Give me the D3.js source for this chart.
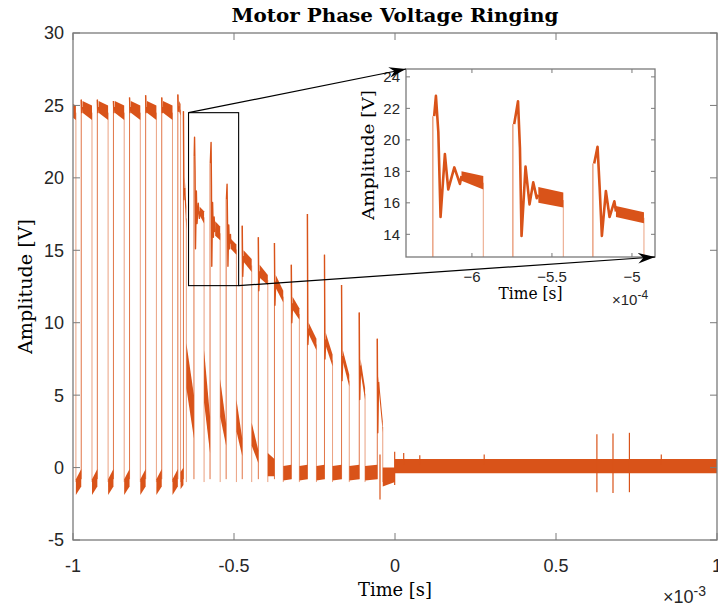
<!DOCTYPE html>
<html>
<head>
<meta charset="utf-8">
<script src="https://cdn.jsdelivr.net/npm/d3@7"></script>
<style>
    body { margin: 0; background: #fff; }
    .tick-label { font-family: "Liberation Sans", Arial, sans-serif; fill: #262626; }
    .tex { font-family: "DejaVu Serif", "Liberation Serif", serif; fill: #000; }
</style>
</head>
<body>
<svg id="chart" width="718" height="607"></svg>
<script>
(function () {
    'use strict';

    // pulse edges, ms
    const riseTimes = [-1.0244, -0.9744, -0.9244, -0.8744, -0.8244, -0.7744, -0.7244, -0.6744, -0.6570,
        -0.6244, -0.5744, -0.5244, -0.4744, -0.4244, -0.3744, -0.3220, -0.2720, -0.2190, -0.1660, -0.1110, -0.0550];
    const fallTimes = [-0.9910, -0.9410, -0.8910, -0.8410, -0.7910, -0.7410, -0.6910, -0.6660, -0.6480,
        -0.5929, -0.5429, -0.4925, -0.4450, -0.3950, -0.3470, -0.2970, -0.2440, -0.1940, -0.1420, -0.0930, -0.0380];
    // spike tops and the dip after them, V
    const spikePeaks = [25.4, 25.4, 25.4, 25.3, 25.55, 25.7, 25.55, 25.75, 24.6,
        22.8, 22.45, 19.56, 16.7, 15.9, 15.5, 14.0, 17.5, 14.7, 12.6, 10.7, 8.9];
    const spikeDips = [24.5, 24.5, 24.5, 24.5, 24.5, 24.5, 24.5, 24.6, 18.5,
        15.1, 13.9, 13.9, 13.2, 12.2, 11.2, 10.0, 8.5, 7.5, 6.0, 4.7, 2.4];
    // on-phase noise band [lo, hi] at start and end
    const plateauStart = [[24.5, 25.3], [24.5, 25.3], [24.5, 25.3], [24.5, 25.3], [24.5, 25.3], [24.5, 25.3], [24.5, 25.3], [24.6, 25.3], [18.5, 20.1],
        [17.4, 18.0], [16.0, 17.0], [15.1, 15.8], [14.2, 15.0], [13.1, 14.0], [12.4, 13.3], [10.9, 11.8], [9.2, 10.0], [8.4, 9.3], [7.3, 8.1], [6.6, 7.5], [5.5, 6.3]];
    const plateauEnd = [[24.0, 25.0], [24.0, 25.0], [24.0, 25.0], [24.0, 25.0], [24.0, 25.0], [24.0, 25.0], [24.0, 25.0], [24.3, 25.1], [16.4, 18.0],
        [16.85, 17.7], [15.7, 16.65], [14.7, 15.4], [13.5, 14.4], [12.6, 13.3], [11.4, 12.2], [10.2, 11.0], [8.1, 8.9], [7.0, 7.8], [5.6, 6.4], [4.7, 5.5], [2.4, 3.2]];
    // off-phase band [lo, hi] at start and end
    const lowStart = [[-1.9, -0.8], [-1.9, -0.8], [-1.9, -0.8], [-1.9, -0.8], [-1.9, -0.8], [-1.9, -0.8], [-1.9, -0.8], [-1.5, -0.3], [5.5, 8.6],
        [4.5, 8.1], [3.5, 6.1], [2.5, 4.7], [1.5, 3.1], [-0.6, 1.0], [-0.9, 0.1], [-0.9, 0.1], [-0.9, 0.1], [-0.9, 0.1], [-0.9, 0.1], [-0.9, 0.1], [-1.3, 0.0]];
    const lowEnd = [[-1.3, -0.1], [-1.3, -0.1], [-1.3, -0.1], [-1.3, -0.1], [-1.3, -0.1], [-1.3, -0.1], [-1.3, -0.1], [-1.2, 0.0], [2.0, 5.0],
        [1.0, 3.5], [1.5, 3.0], [0.8, 2.0], [0.3, 1.2], [-0.6, 0.6], [-0.8, 0.2], [-0.8, 0.2], [-0.8, 0.2], [-0.8, 0.2], [-0.8, 0.2], [-0.8, 0.2], [-1.0, 0.0]];
    // ringing read from the zoomed view: [t ms, V]
    const ringPulse0 = [[-0.6236, 21.5], [-0.6225, 22.8], [-0.6210, 20.5], [-0.6196, 15.1], [-0.6169, 19.1], [-0.6148, 16.85], [-0.6110, 18.25], [-0.6075, 17.2], [-0.6065, 17.7]];
    const ringPulse1 = [[-0.5736, 21.0], [-0.5712, 22.45], [-0.5700, 19.5], [-0.5690, 13.9], [-0.5665, 18.3], [-0.5640, 15.9], [-0.5617, 17.3], [-0.5595, 16.3], [-0.5585, 16.5]];
    const ringPulse2 = [[-0.5236, 18.5], [-0.5215, 19.56], [-0.5202, 17.0], [-0.5188, 13.9], [-0.5163, 16.75], [-0.5140, 15.1], [-0.5110, 16.1], [-0.5100, 15.45]];
    const ringIndex = [9, 10, 11];
    // after switch-off
    const tailBand = [[0.0, -0.4, 0.6], [1.0, -0.4, 0.6]];
    const glitches = [[-0.0466, -2.2, 0.9], [-0.0010, -1.2, 1.1], [0.027, 0.2, 1.0], [0.077, 0.2, 0.85], [0.277, 0.2, 0.9],
        [0.627, -1.7, 2.3], [0.677, -1.75, 2.35], [0.728, -1.7, 2.4], [0.827, 0.2, 0.9]];

    const xTicks = [-1, -0.5, 0, 0.5, 1];
    const yTicks = [-5, 0, 5, 10, 15, 20, 25, 30];
    const insetXTicks = [-0.6, -0.55, -0.5];
    const insetYTicks = [14, 16, 18, 20, 22, 24];

    const COLOR = '#D95319';
    const AXIS = '#7a7a7a';

    const svg = d3.select('#chart');
    const defs = svg.append('defs');

    const main = { left: 73, right: 717, top: 33, bottom: 540 };
    const inset = { left: 406, right: 655, top: 69, bottom: 257 };

    const x = d3.scaleLinear().domain([-1, 1]).range([main.left, main.right]);
    const y = d3.scaleLinear().domain([-5, 30]).range([main.bottom, main.top]);
    const xi = d3.scaleLinear().domain([-0.6412, -0.4856]).range([inset.left, inset.right]);
    const yi = d3.scaleLinear().domain([12.56, 24.5]).range([inset.bottom, inset.top]);

    function clip(id, box) {
        defs.append('clipPath').attr('id', id).append('rect')
            .attr('x', box.left).attr('y', box.top)
            .attr('width', box.right - box.left).attr('height', box.bottom - box.top);
    }
    clip('clip-main', main);
    clip('clip-inset', inset);

    function drawSignal(g, xs, ys, spikeWidth) {
        const line = d3.line().x(d => xs(d[0])).y(d => ys(d[1]));
        const band = d3.area().x(d => xs(d[0])).y0(d => ys(d[1])).y1(d => ys(d[2]));

        riseTimes.forEach((rise, i) => {
            const fall = fallTimes[i];
            const next = i + 1 < riseTimes.length ? riseTimes[i + 1] : 0;
            const ps = plateauStart[i], pe = plateauEnd[i];
            const r = ringIndex.indexOf(i);
            let spike;
            if (r >= 0) {
                spike = [ringPulse0, ringPulse1, ringPulse2][r];
            } else {
                spike = [[rise, spikePeaks[i]], [rise + 0.0015, spikeDips[i]],
                    [rise + 0.004, (ps[0] + ps[1]) / 2]];
            }
            const plateauT0 = spike[spike.length - 1][0];

            // off-phase band
            g.append('path')
                .attr('d', band([[fall, lowStart[i][0], lowStart[i][1]], [next, lowEnd[i][0], lowEnd[i][1]]]))
                .attr('fill', COLOR);
            // on-phase band
            g.append('path')
                .attr('d', band([[plateauT0, ps[0], ps[1]], [fall, pe[0], pe[1]]]))
                .attr('fill', COLOR);
            // rising edge, then spike + ringing
            g.append('path')
                .attr('d', line([[rise, -0.8], [rise, spike[0][1]]]))
                .attr('stroke', COLOR)
                .attr('stroke-opacity', 0.8)
                .attr('stroke-width', 1);
            g.append('path')
                .attr('d', line(spike))
                .attr('fill', 'none')
                .attr('stroke', COLOR)
                .attr('stroke-width', spikeWidth)
                .attr('stroke-linejoin', 'round');
            // falling edge
            g.append('path')
                .attr('d', line([[fall, (pe[0] + pe[1]) / 2], [fall, -1.0]]))
                .attr('stroke', COLOR)
                .attr('stroke-opacity', 0.55)
                .attr('stroke-width', 1);
        });

        g.append('path')
            .attr('d', band(tailBand))
            .attr('fill', COLOR);

        g.selectAll(null)
            .data(glitches)
            .enter()
            .append('path')
            .attr('d', d => line([[d[0], d[1]], [d[0], d[2]]]))
            .attr('stroke', COLOR)
            .attr('stroke-width', 1.2);
    }

    function drawBox(g, xs, ys, box, xt, yt, tickLen) {
        g.append('rect')
            .attr('x', box.left).attr('y', box.top)
            .attr('width', box.right - box.left).attr('height', box.bottom - box.top)
            .attr('fill', 'none').attr('stroke', AXIS).attr('stroke-width', 1.3);
        xt.forEach(t => {
            g.append('line').attr('x1', xs(t)).attr('x2', xs(t)).attr('y1', box.bottom).attr('y2', box.bottom - tickLen)
                .attr('stroke', AXIS);
            g.append('line').attr('x1', xs(t)).attr('x2', xs(t)).attr('y1', box.top).attr('y2', box.top + tickLen)
                .attr('stroke', AXIS);
        });
        yt.forEach(t => {
            g.append('line').attr('x1', box.left).attr('x2', box.left + tickLen).attr('y1', ys(t)).attr('y2', ys(t))
                .attr('stroke', AXIS);
            g.append('line').attr('x1', box.right).attr('x2', box.right - tickLen).attr('y1', ys(t)).attr('y2', ys(t))
                .attr('stroke', AXIS);
        });
    }

    // ---- main axes
    const mainData = svg.append('g').attr('clip-path', 'url(#clip-main)');
    drawSignal(mainData, x, y, 1.4);
    drawBox(svg.append('g'), x, y, main, xTicks, yTicks, 7);

    svg.append('g').selectAll('text')
        .data(yTicks).enter().append('text')
        .attr('class', 'tick-label')
        .attr('x', main.left - 9).attr('y', d => y(d)).attr('dy', '0.36em')
        .attr('text-anchor', 'end').attr('font-size', 18)
        .text(d => d);

    svg.append('g').selectAll('text')
        .data(xTicks).enter().append('text')
        .attr('class', 'tick-label')
        .attr('x', d => x(d)).attr('y', main.bottom + 32)
        .attr('text-anchor', 'middle').attr('font-size', 18)
        .text(d => d);

    const exp3 = svg.append('text').attr('class', 'tick-label').attr('font-size', 18)
        .attr('x', 663).attr('y', 603);
    exp3.append('tspan').text('\u00d710');
    exp3.append('tspan').attr('font-size', 14).attr('dy', -7).text('-3');

    svg.append('text').attr('class', 'tex')
        .attr('x', x(0)).attr('y', 596).attr('text-anchor', 'middle').attr('font-size', 18)
        .attr('textLength', 74).attr('lengthAdjust', 'spacingAndGlyphs')
        .text('Time [s]');
    svg.append('text').attr('class', 'tex')
        .attr('transform', 'translate(32,' + ((main.top + main.bottom) / 2) + ') rotate(-90)')
        .attr('text-anchor', 'middle').attr('font-size', 18)
        .attr('textLength', 135).attr('lengthAdjust', 'spacingAndGlyphs')
        .text('Amplitude [V]');
    svg.append('text').attr('class', 'tex')
        .attr('x', x(0)).attr('y', 22).attr('text-anchor', 'middle')
        .attr('font-size', 19).attr('font-weight', 'bold')
        .attr('textLength', 327).attr('lengthAdjust', 'spacingAndGlyphs')
        .text('Motor Phase Voltage Ringing');

    // zoom rectangle on main plot
    svg.append('rect')
        .attr('x', x(xi.domain()[0])).attr('y', y(yi.domain()[1]))
        .attr('width', x(xi.domain()[1]) - x(xi.domain()[0]))
        .attr('height', y(yi.domain()[0]) - y(yi.domain()[1]))
        .attr('fill', 'none').attr('stroke', '#000').attr('stroke-width', 1.1);

    // ---- inset axes
    svg.append('rect')
        .attr('x', inset.left).attr('y', inset.top)
        .attr('width', inset.right - inset.left).attr('height', inset.bottom - inset.top)
        .attr('fill', '#fff');
    const insetData = svg.append('g').attr('clip-path', 'url(#clip-inset)');
    drawSignal(insetData, xi, yi, 2.6);
    drawBox(svg.append('g'), xi, yi, inset, insetXTicks, insetYTicks, 4);

    svg.append('g').selectAll('text')
        .data(insetYTicks).enter().append('text')
        .attr('class', 'tick-label')
        .attr('x', inset.left - 6).attr('y', d => yi(d)).attr('dy', '0.36em')
        .attr('text-anchor', 'end').attr('font-size', 15)
        .text(d => d);
    svg.append('g').selectAll('text')
        .data(insetXTicks).enter().append('text')
        .attr('class', 'tick-label')
        .attr('x', d => xi(d)).attr('y', inset.bottom + 25)
        .attr('text-anchor', 'middle').attr('font-size', 15)
        .text(d => d3.format('~g')(d * 10));
    const exp4 = svg.append('text').attr('class', 'tick-label').attr('font-size', 15)
        .attr('x', 612).attr('y', 305);
    exp4.append('tspan').text('\u00d710');
    exp4.append('tspan').attr('font-size', 12).attr('dy', -6).text('-4');

    svg.append('text').attr('class', 'tex')
        .attr('x', (inset.left + inset.right) / 2).attr('y', inset.bottom + 42)
        .attr('text-anchor', 'middle').attr('font-size', 16)
        .attr('textLength', 64).attr('lengthAdjust', 'spacingAndGlyphs')
        .text('Time [s]');
    svg.append('text').attr('class', 'tex')
        .attr('transform', 'translate(374,' + ((inset.top + inset.bottom) / 2 - 8) + ') rotate(-90)')
        .attr('text-anchor', 'middle').attr('font-size', 16)
        .attr('textLength', 130).attr('lengthAdjust', 'spacingAndGlyphs')
        .text('Amplitude [V]');

    // ---- connector arrows
    defs.append('marker')
        .attr('id', 'arrow').attr('viewBox', '0 -5 16 10')
        .attr('refX', 16).attr('refY', 0)
        .attr('markerWidth', 17).attr('markerHeight', 11)
        .attr('markerUnits', 'userSpaceOnUse')
        .attr('orient', 'auto')
        .append('path').attr('d', 'M0,-5L16,0L0,5L5,0Z').attr('fill', '#000');

    const arrows = [
        [[xi.domain()[0], yi.domain()[1]], [inset.left, inset.top]],
        [[xi.domain()[1], yi.domain()[0]], [inset.right, inset.bottom]]
    ];
    svg.append('g').selectAll('line')
        .data(arrows).enter().append('line')
        .attr('x1', d => x(d[0][0])).attr('y1', d => y(d[0][1]))
        .attr('x2', d => d[1][0]).attr('y2', d => d[1][1])
        .attr('stroke', '#000').attr('stroke-width', 1.2)
        .attr('marker-end', 'url(#arrow)');
})();
</script>
</body>
</html>
